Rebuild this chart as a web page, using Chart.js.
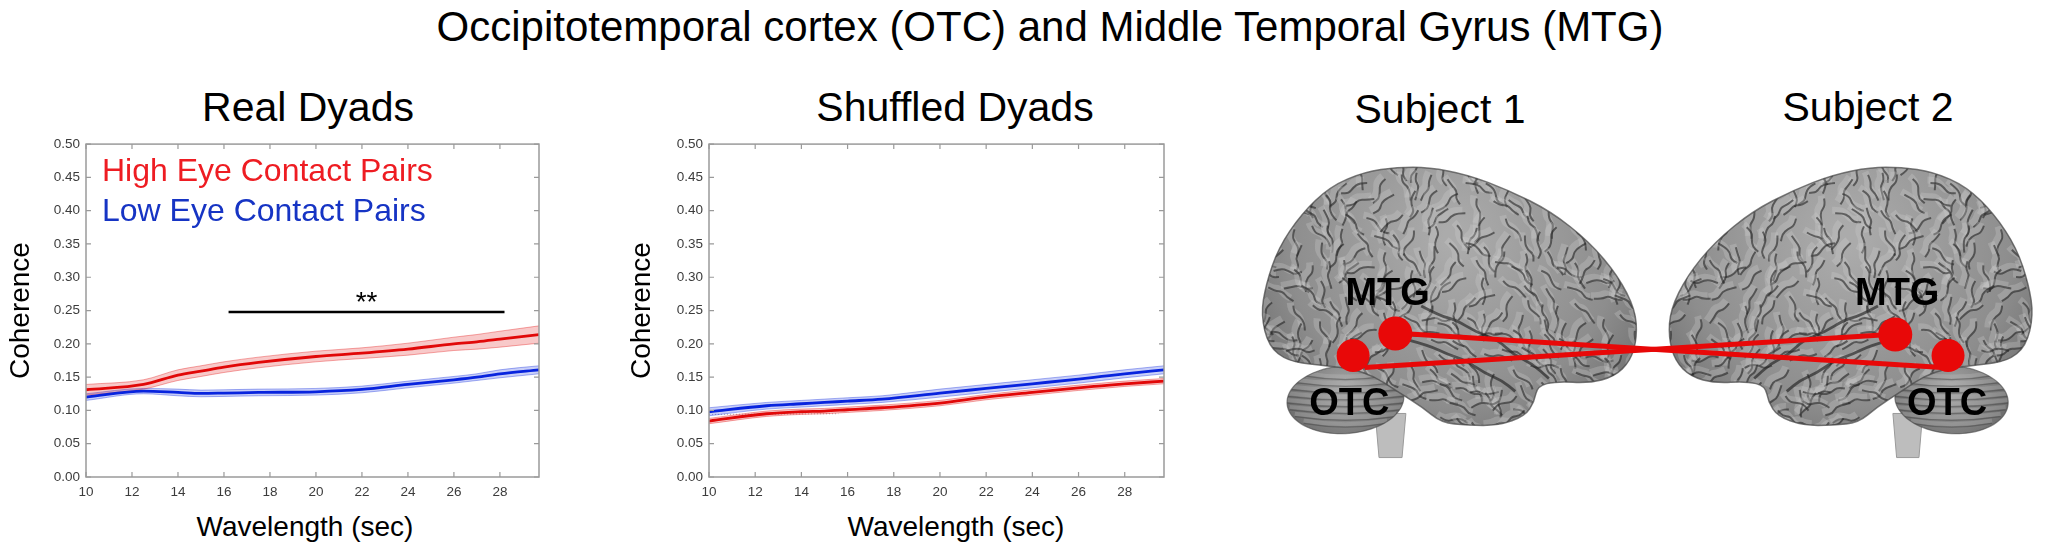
<!DOCTYPE html>
<html>
<head>
<meta charset="utf-8">
<title>OTC and MTG coherence</title>
<script src="https://cdn.jsdelivr.net/npm/chart.js@4.4.1/dist/chart.umd.min.js"></script>
<style>
  html, body { margin: 0; padding: 0; background: #fff; }
  body {
    width: 2061px; height: 549px; position: relative; overflow: hidden;
    font-family: "Liberation Sans", Arial, Helvetica, sans-serif;
  }
  .t { position: absolute; white-space: nowrap; transform: translateX(-50%); line-height: 1; color: #000; }
  .box { position: absolute; }
  .box canvas { display: block; }
</style>
</head>
<body>
<div class="t" style="left:1050px;top:5.5px;font-size:42px">Occipitotemporal cortex (OTC) and Middle Temporal Gyrus (MTG)</div>
<div class="t" style="left:308px;top:87.3px;font-size:41px">Real Dyads</div>
<div class="t" style="left:955px;top:87.3px;font-size:41px">Shuffled Dyads</div>
<div class="t" style="left:1440px;top:89.3px;font-size:41px">Subject 1</div>
<div class="t" style="left:1868px;top:87.3px;font-size:41px">Subject 2</div>
<div class="t" style="left:305px;top:513.3px;font-size:28px">Wavelength (sec)</div>
<div class="t" style="left:956px;top:513.3px;font-size:28px">Wavelength (sec)</div>

<div class="box" style="left:0;top:130px;width:560px;height:419px"><canvas id="chart-real" width="560" height="419"></canvas></div>
<div class="box" style="left:621px;top:130px;width:560px;height:419px"><canvas id="chart-shuffled" width="560" height="419"></canvas></div>
<div class="box" style="left:1220px;top:130px;width:841px;height:419px"><canvas id="chart-brain" width="841" height="419"></canvas></div>

<script>
/* ── data ───────────────────────────────────────── */

const WAVELENGTH = [10, 12.5, 14, 15, 16, 17.5, 20, 22, 24, 26, 27, 28, 29.7];

// Real dyads
const REAL_HIGH = [0.131, 0.139, 0.153, 0.159, 0.165, 0.172, 0.181, 0.186, 0.192, 0.2, 0.203, 0.207, 0.214];
const REAL_HIGH_SEM = [0.008, 0.007, 0.008, 0.008, 0.008, 0.008, 0.008, 0.008, 0.009, 0.01, 0.011, 0.012, 0.013];
const REAL_LOW = [0.12, 0.129, 0.127, 0.1255, 0.126, 0.127, 0.128, 0.1315, 0.139, 0.146, 0.15, 0.155, 0.161];
const REAL_LOW_SEM = [0.005, 0.004, 0.005, 0.005, 0.005, 0.005, 0.005, 0.005, 0.005, 0.005, 0.005, 0.006, 0.006];

// Shuffled dyads
const SHUF_HIGH = [0.084, 0.095, 0.098, 0.099, 0.101, 0.104, 0.111, 0.12, 0.127, 0.134, 0.137, 0.14, 0.144];
const SHUF_HIGH_SEM = [0.004, 0.004, 0.004, 0.004, 0.004, 0.004, 0.004, 0.004, 0.004, 0.004, 0.004, 0.004, 0.004];
const SHUF_LOW = [0.098, 0.107, 0.11, 0.112, 0.114, 0.117, 0.126, 0.133, 0.14, 0.147, 0.151, 0.155, 0.161];
const SHUF_LOW_SEM = [0.006, 0.005, 0.005, 0.005, 0.005, 0.005, 0.006, 0.006, 0.006, 0.006, 0.006, 0.006, 0.006];
const SHUF_DOTTED_X = [10, 15.6];
const SHUF_DOTTED_Y = [0.094, 0.095];

const X_TICKS = [10, 12, 14, 16, 18, 20, 22, 24, 26, 28];
const Y_TICKS = [0, 0.05, 0.1, 0.15, 0.2, 0.25, 0.3, 0.35, 0.4, 0.45, 0.5];
const X_MIN = 10;
const X_MAX = 29.7;

const LEGEND_LABELS = ["High Eye Contact Pairs", "Low Eye Contact Pairs"];
const SIG_FROM = 16.2;
const SIG_TO = 28.2;
const SIG_LEVEL = 0.248;
const SIG_LABEL = "**";

/* ── styling ────────────────────────────────────── */

const FONT = '"Liberation Sans", Arial, Helvetica, sans-serif';
const RED = { r: 225, g: 8, b: 8 };
const BLUE = { r: 8, g: 36, b: 222 };
const LEGEND_COLORS = ["#ee1c22", "#1634c4"];
const TICK_COLOR = "#3c3c3c";
const FRAME_COLOR = "#9a9a9a";

Chart.defaults.font.family = FONT;
Chart.defaults.animation = false;

function rgba({ r, g, b }, a) {
  return `rgba(${r}, ${g}, ${b}, ${a})`;
}

function points(xs, ys) {
  return xs.map((x, i) => ({ x, y: ys[i] }));
}

function bandSets(ys, sem, color) {
  const upper = ys.map((v, i) => v + sem[i]);
  const lower = ys.map((v, i) => v - sem[i]);
  const edge = {
    borderColor: rgba(color, 0.35),
    borderWidth: 1,
    pointRadius: 0,
    cubicInterpolationMode: "monotone",
  };
  return [
    { ...edge, data: points(WAVELENGTH, upper), fill: false },
    { ...edge, data: points(WAVELENGTH, lower), fill: "-1", backgroundColor: rgba(color, 0.22) },
  ];
}

function meanLine(ys, color) {
  return {
    data: points(WAVELENGTH, ys),
    borderColor: rgba(color, 1),
    borderWidth: 2.8,
    pointRadius: 0,
    fill: false,
    cubicInterpolationMode: "monotone",
  };
}

/* box with inward MATLAB-style ticks */
const framePlugin = {
  id: "frame",
  afterDatasetsDraw(chart) {
    const { ctx, chartArea: a, scales: { x, y } } = chart;
    ctx.save();
    ctx.strokeStyle = FRAME_COLOR;
    ctx.lineWidth = 1.5;
    ctx.strokeRect(a.left, a.top, a.width, a.height);
    ctx.lineWidth = 1.2;
    ctx.beginPath();
    for (const v of Y_TICKS) {
      const py = y.getPixelForValue(v);
      ctx.moveTo(a.left, py);
      ctx.lineTo(a.left + 5, py);
      ctx.moveTo(a.right, py);
      ctx.lineTo(a.right - 5, py);
    }
    for (const v of X_TICKS) {
      const px = x.getPixelForValue(v);
      ctx.moveTo(px, a.bottom);
      ctx.lineTo(px, a.bottom - 5);
      ctx.moveTo(px, a.top);
      ctx.lineTo(px, a.top + 5);
    }
    ctx.stroke();
    ctx.restore();
  },
};

/* legend text and significance bar on the real-dyads panel */
const realAnnotations = {
  id: "realAnnotations",
  afterDatasetsDraw(chart) {
    const { ctx, chartArea: a, scales: { x, y } } = chart;
    ctx.save();
    ctx.font = `32px ${FONT}`;
    ctx.textAlign = "left";
    ctx.textBaseline = "alphabetic";
    ctx.fillStyle = LEGEND_COLORS[0];
    ctx.fillText(LEGEND_LABELS[0], a.left + 16, a.top + 37);
    ctx.fillStyle = LEGEND_COLORS[1];
    ctx.fillText(LEGEND_LABELS[1], a.left + 16, a.top + 77);

    const ly = y.getPixelForValue(SIG_LEVEL);
    ctx.strokeStyle = "#000";
    ctx.lineWidth = 2.5;
    ctx.beginPath();
    ctx.moveTo(x.getPixelForValue(SIG_FROM), ly);
    ctx.lineTo(x.getPixelForValue(SIG_TO), ly);
    ctx.stroke();
    ctx.fillStyle = "#000";
    ctx.font = `28px ${FONT}`;
    ctx.textAlign = "center";
    ctx.fillText(SIG_LABEL, x.getPixelForValue((SIG_FROM + SIG_TO) / 2), ly - 1);
    ctx.restore();
  },
};

function coherenceOptions(yAxisWidth, padRight) {
  const tickFont = { size: 13.5, family: FONT };
  return {
    responsive: false,
    animation: false,
    layout: { padding: { top: 13, right: padRight, bottom: 0, left: 0 } },
    plugins: { legend: { display: false }, tooltip: { enabled: false } },
    scales: {
      x: {
        type: "linear",
        min: X_MIN,
        max: X_MAX,
        grid: { display: false, drawTicks: false },
        border: { display: false },
        afterBuildTicks: (s) => { s.ticks = X_TICKS.map((v) => ({ value: v })); },
        afterFit: (s) => { s.height = 72; },
        ticks: { padding: 7, color: TICK_COLOR, font: tickFont, autoSkip: false, maxRotation: 0 },
      },
      y: {
        type: "linear",
        min: 0,
        max: 0.5,
        grid: { display: false, drawTicks: false },
        border: { display: false },
        afterBuildTicks: (s) => { s.ticks = Y_TICKS.map((v) => ({ value: v })); },
        afterFit: (s) => { s.width = yAxisWidth; },
        ticks: { padding: 6, color: TICK_COLOR, font: tickFont, callback: (v) => v.toFixed(2) },
        title: {
          display: true,
          text: "Coherence",
          color: "#000",
          font: { size: 28, family: FONT },
          padding: { top: 4, bottom: 0 },
        },
      },
    },
  };
}

new Chart(document.getElementById("chart-real"), {
  type: "line",
  data: {
    datasets: [
      meanLine(REAL_HIGH, RED),
      meanLine(REAL_LOW, BLUE),
      ...bandSets(REAL_HIGH, REAL_HIGH_SEM, RED),
      ...bandSets(REAL_LOW, REAL_LOW_SEM, BLUE),
    ],
  },
  options: coherenceOptions(86, 21),
  plugins: [framePlugin, realAnnotations],
});

new Chart(document.getElementById("chart-shuffled"), {
  type: "line",
  data: {
    datasets: [
      meanLine(SHUF_HIGH, RED),
      meanLine(SHUF_LOW, BLUE),
      ...bandSets(SHUF_HIGH, SHUF_HIGH_SEM, RED),
      ...bandSets(SHUF_LOW, SHUF_LOW_SEM, BLUE),
      {
        data: points(SHUF_DOTTED_X, SHUF_DOTTED_Y),
        borderColor: "#b0b0b0",
        borderWidth: 1,
        borderDash: [1, 2],
        pointRadius: 0,
        fill: false,
      },
    ],
  },
  options: coherenceOptions(88, 17),
  plugins: [framePlugin],
});

/* ── brain illustration (page pixel coordinates) ── */

const CEREBRUM = [
  [1245, 313], [1250, 280], [1263, 240], [1287, 203], [1317, 173], [1353, 157],
  [1387, 152], [1420, 152], [1460, 160], [1503, 177], [1547, 200], [1587, 233],
  [1617, 270], [1635, 307], [1637, 337], [1630, 363], [1613, 380], [1587, 387],
  [1553, 385], [1533, 390], [1530, 407], [1520, 423], [1493, 433], [1460, 433],
  [1433, 430], [1413, 413], [1393, 400], [1353, 373], [1303, 367], [1273, 363], [1253, 347],
];
const CEREBELLUM = { cx: 1333, cy: 405, rx: 61, ry: 37 };
const BRAINSTEM = [[1364, 420], [1396, 420], [1392, 468], [1368, 468]];
const SULCI = [
  [[1412, 303], [1432, 314], [1448, 318], [1470, 332], [1492, 340], [1508, 356], [1528, 366], [1545, 382]],
  [[1398, 340], [1420, 346], [1440, 356], [1458, 362], [1478, 376], [1496, 384], [1510, 396]],
];
const MIRROR = { from: 1245, to: 2050, scale: 0.97 };

const ROI_LABELS = ["MTG", "OTC", "MTG", "OTC"];
const ROI_LABEL_POS = [[1377, 302], [1337, 422], [1908, 302], [1960, 422]];
const ROI_DOTS = [[1385, 333], [1341, 357], [1906, 334], [1961, 357]];
const ROI_RADIUS = [17, 16.5, 17, 16.5];
const LINK_A = [[1353, 370], [1900, 334]];
const LINK_B = [[1392, 333], [1955, 370]];
const ROI_RED = "#e80808";

function smoothClosed(ctx, pts) {
  const n = pts.length;
  const mid = (p, q) => [(p[0] + q[0]) / 2, (p[1] + q[1]) / 2];
  ctx.beginPath();
  const m0 = mid(pts[n - 1], pts[0]);
  ctx.moveTo(m0[0], m0[1]);
  for (let i = 0; i < n; i++) {
    const m = mid(pts[i], pts[(i + 1) % n]);
    ctx.quadraticCurveTo(pts[i][0], pts[i][1], m[0], m[1]);
  }
  ctx.closePath();
}

function smoothOpen(ctx, pts) {
  ctx.beginPath();
  ctx.moveTo(pts[0][0], pts[0][1]);
  for (let i = 1; i < pts.length - 1; i++) {
    const mx = (pts[i][0] + pts[i + 1][0]) / 2;
    const my = (pts[i][1] + pts[i + 1][1]) / 2;
    ctx.quadraticCurveTo(pts[i][0], pts[i][1], mx, my);
  }
  const last = pts[pts.length - 1];
  ctx.lineTo(last[0], last[1]);
}

// worm-like folds: light ridge then dark groove along a wandering path
function drawGyri(ctx, P) {
  for (let gy = 145; gy <= 440; gy += 19) {
    for (let gx = 1236; gx <= 1645; gx += 19) {
      const k = gx * 0.131 + gy * 0.217;
      const temporal = gx > 1395 && gy > 305 + 0.59 * (gx - 1415);
      let ang = (temporal ? 0.5 : 1.45 + 0.35 * Math.sin(gx * 0.019)) + 0.6 * Math.sin(k * 1.9);
      let px = gx + 6 * Math.sin(k * 5.3);
      let py = gy + 6 * Math.cos(k * 4.7);
      const path = [[px, py]];
      for (let s = 0; s < 4; s++) {
        ang += 0.95 * Math.sin(k * 2.7 + s * 2.1);
        px += Math.cos(ang) * 8;
        py += Math.sin(ang) * 8;
        path.push([px, py]);
      }
      const pp = path.map(([u, v]) => P(u, v));
      ctx.strokeStyle = "rgba(210, 210, 210, 0.28)";
      ctx.lineWidth = 7;
      smoothOpen(ctx, pp.map(([u, v]) => [u - 3, v - 3]));
      ctx.stroke();
      ctx.strokeStyle = "rgba(38, 38, 38, 0.6)";
      ctx.lineWidth = 2;
      smoothOpen(ctx, pp);
      ctx.stroke();
    }
  }
}

function drawBrain(ctx, P, sx) {
  // brainstem (behind everything)
  ctx.beginPath();
  BRAINSTEM.forEach(([x, y], i) => {
    const p = P(x, y);
    if (i === 0) ctx.moveTo(p[0], p[1]);
    else ctx.lineTo(p[0], p[1]);
  });
  ctx.closePath();
  ctx.fillStyle = "#bdbdbd";
  ctx.fill();
  ctx.strokeStyle = "#9a9a9a";
  ctx.lineWidth = 1;
  ctx.stroke();

  // cerebellum
  const { cx, cy, rx, ry } = CEREBELLUM;
  const ell = [];
  for (let i = 0; i < 48; i++) {
    const t = (i / 48) * Math.PI * 2;
    ell.push(P(cx + rx * Math.cos(t), cy + ry * Math.sin(t) - 3 * Math.cos(t)));
  }
  const c0 = P(cx, cy - 12);
  let g = ctx.createRadialGradient(c0[0], c0[1], 5, c0[0], c0[1], rx * sx + 8);
  g.addColorStop(0, "#a0a0a0");
  g.addColorStop(1, "#666");
  smoothClosed(ctx, ell);
  ctx.fillStyle = g;
  ctx.fill();
  ctx.save();
  ctx.clip();
  for (let t = -0.7; t <= 0.9; t += 0.2) {
    const half = rx * Math.sqrt(1 - t * t);
    const a = P(cx - half, cy + t * ry);
    const q = P(cx, cy + t * ry + 8);
    const b = P(cx + half, cy + t * ry);
    ctx.strokeStyle = "rgba(200, 200, 200, 0.25)";
    ctx.lineWidth = 4;
    ctx.beginPath();
    ctx.moveTo(a[0], a[1] - 3);
    ctx.quadraticCurveTo(q[0], q[1] - 3, b[0], b[1] - 3);
    ctx.stroke();
    ctx.strokeStyle = "rgba(45, 45, 45, 0.35)";
    ctx.lineWidth = 1.3;
    ctx.beginPath();
    ctx.moveTo(a[0], a[1]);
    ctx.quadraticCurveTo(q[0], q[1], b[0], b[1]);
    ctx.stroke();
  }
  ctx.restore();
  smoothClosed(ctx, ell);
  ctx.strokeStyle = "rgba(70, 70, 70, 0.6)";
  ctx.lineWidth = 1.2;
  ctx.stroke();

  // cerebrum
  const outline = CEREBRUM.map(([x, y]) => P(x, y));
  const gc = P(1445, 230);
  g = ctx.createRadialGradient(gc[0], gc[1], 10, gc[0], gc[1], 270);
  g.addColorStop(0, "#ababab");
  g.addColorStop(0.6, "#8d8d8d");
  g.addColorStop(1, "#606060");
  smoothClosed(ctx, outline);
  ctx.fillStyle = g;
  ctx.fill();
  ctx.save();
  smoothClosed(ctx, outline);
  ctx.clip();
  drawGyri(ctx, P);
  ctx.strokeStyle = "rgba(35, 35, 35, 0.65)";
  ctx.lineWidth = 2.8;
  for (const s of SULCI) {
    smoothOpen(ctx, s.map(([x, y]) => P(x, y)));
    ctx.stroke();
  }
  ctx.restore();
  smoothClosed(ctx, outline);
  ctx.strokeStyle = "rgba(70, 70, 70, 0.7)";
  ctx.lineWidth = 1.5;
  ctx.stroke();
}

const brainPlugin = {
  id: "brain",
  beforeDatasetsDraw(chart) {
    const { ctx, scales: { x, y } } = chart;
    const P = (px, py) => [x.getPixelForValue(px), y.getPixelForValue(py)];
    const M = (px, py) => P(MIRROR.to - (px - MIRROR.from) * MIRROR.scale, py);
    ctx.save();
    drawBrain(ctx, P, 1);
    drawBrain(ctx, M, MIRROR.scale);
    ctx.restore();
  },
  afterDatasetsDraw(chart) {
    const { ctx, scales: { x, y } } = chart;
    ctx.save();
    ctx.font = `bold 38px ${FONT}`;
    ctx.textAlign = "center";
    ctx.textBaseline = "alphabetic";
    ctx.fillStyle = "#000";
    ROI_LABELS.forEach((label, i) => {
      const [lx, ly] = ROI_LABEL_POS[i];
      ctx.fillText(label, x.getPixelForValue(lx), y.getPixelForValue(ly));
    });
    ctx.restore();
  },
};

const link = (pts) => ({
  type: "line",
  data: pts.map(([x, y]) => ({ x, y })),
  borderColor: ROI_RED,
  borderWidth: 5,
  pointRadius: 0,
  showLine: true,
  fill: false,
});

new Chart(document.getElementById("chart-brain"), {
  type: "scatter",
  data: {
    datasets: [
      {
        data: ROI_DOTS.map(([x, y]) => ({ x, y })),
        pointRadius: ROI_RADIUS,
        pointBackgroundColor: ROI_RED,
        pointBorderWidth: 0,
      },
      link(LINK_A),
      link(LINK_B),
    ],
  },
  options: {
    responsive: false,
    animation: false,
    layout: { padding: 0 },
    plugins: { legend: { display: false }, tooltip: { enabled: false } },
    scales: {
      x: { type: "linear", min: 1220, max: 2061, display: false },
      y: { type: "linear", min: 130, max: 549, reverse: true, display: false },
    },
  },
  plugins: [brainPlugin],
});
</script>
</body>
</html>
